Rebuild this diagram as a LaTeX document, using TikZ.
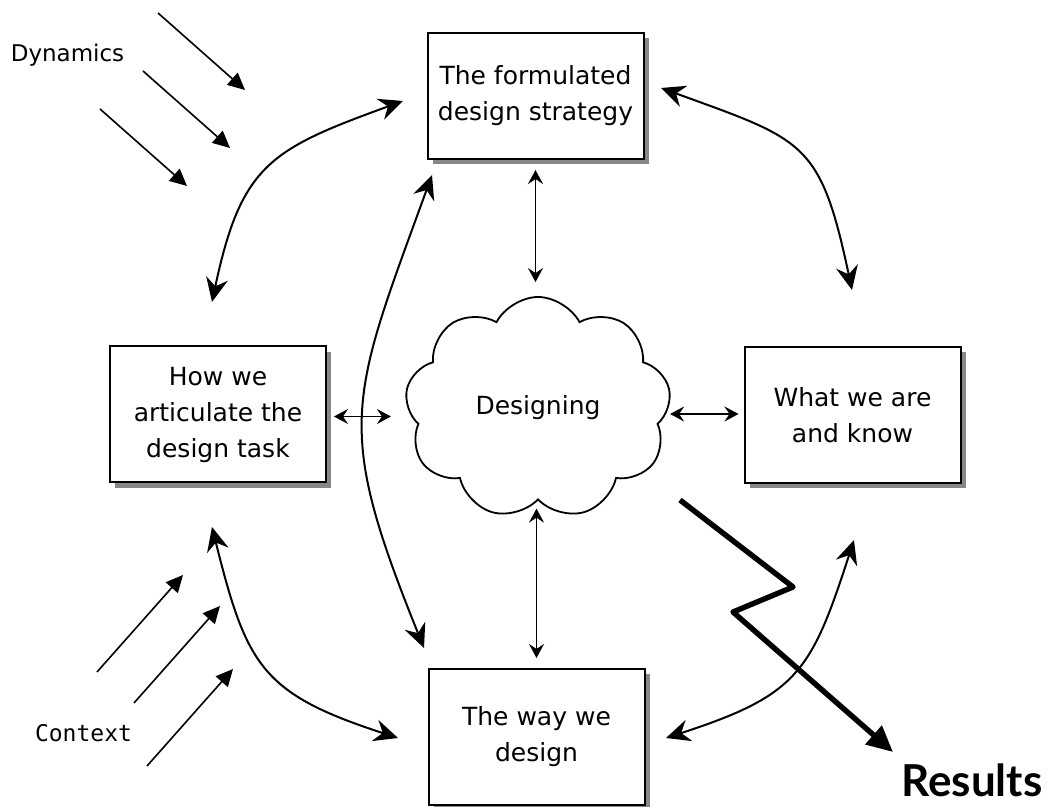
\documentclass[tikz,border=0pt]{standalone}
\usepackage{fontspec}
\setmainfont{DejaVu Sans}
\newfontfamily\ctxfont{DejaVu Sans Mono}
\newfontfamily\resfont{Lato}
\usetikzlibrary{arrows.meta,positioning,shapes.symbols,shadows}

\begin{document}
\begin{tikzpicture}[
  x=0.5pt, y=0.5pt,
  box/.style={
    draw=black,
    line width=1pt,
    fill=white,
    minimum width=108pt,
    minimum height=68pt,
    align=center,
    inner sep=4pt,
    font=\fontsize{12.5}{18}\selectfont,
    drop shadow={shadow xshift=2.6pt, shadow yshift=-2.6pt, fill=black!47, opacity=1},
  },
  puff/.style={
    cloud,
    cloud puffs=9,
    cloud puff arc=125,
    aspect=1.2,
    draw=black,
    line width=0.9pt,
    fill=white,
    minimum width=133pt,
    minimum height=111pt,
    font=\fontsize{12.5}{18}\selectfont,
  },
  loop arr/.style={
    {Stealth[length=12pt,width=11pt,inset=4pt]}-{Stealth[length=12pt,width=11pt,inset=4pt]},
    line width=1pt,
  },
  dbl arr/.style={
    {Stealth[length=7pt,width=7.5pt,inset=2.5pt]}-{Stealth[length=7pt,width=7.5pt,inset=2.5pt]},
    line width=0.75pt,
  },
  push arr/.style={
    -{Triangle[length=8.5pt,width=8pt]},
    line width=0.8pt,
  },
  result arr/.style={
    -{Triangle[length=13pt,width=12pt]},
    line width=2.7pt,
    line join=round,
  },
  note/.style={
    font=\fontsize{11.5}{14}\selectfont,
    anchor=base,
  },
]
\useasboundingbox (0,0) rectangle (1048,807);

% Nodes
\node[box, minimum height=63pt] (strategy) at (535.5,711) {The formulated\\design strategy};

\node[box] (articulate) at (218,392.5) {How we\\articulate the\\design task};

\node[box] (know) at (852.5,392) {What we are\\and know};

\node[box] (way) at (536.5,70) {The way we\\design};

\node[puff] (designing) at (538,399) {\raisebox{-5pt}{Designing}};

\node[note] (dynamics) at (67.5,745) {Dynamics};

\node[note, font=\ctxfont\fontsize{11.5}{14}\selectfont] (context) at (83.5,65) {Context};

\node[anchor=base, font=\resfont\bfseries\fontsize{22}{26}\selectfont] (results) at (972,10) {Results};

% Free ends of the curved arrows
\coordinate (tl a) at (212,505);
\coordinate (tl b) at (403,706);
\coordinate (tr a) at (661,719);
\coordinate (tr b) at (852,517);
\coordinate (bl a) at (212,280);
\coordinate (bl b) at (398,69);
\coordinate (br a) at (854,267);
\coordinate (br b) at (666,69);
\coordinate (long a) at (432,632);
\coordinate (long b) at (424,159);

% Curved arrows
\draw[loop arr] (tl a) to[out=78,in=200,looseness=1.3] (tl b);
\draw[loop arr] (tr a) to[out=-20,in=102,looseness=1.4] (tr b);
\draw[loop arr] (bl a) to[out=-76,in=162,looseness=1.3] (bl b);
\draw[loop arr] (br a) to[out=252,in=18,looseness=1.3] (br b);
\draw[loop arr] (long a) to[out=250,in=112,looseness=1.3] (long b);

% Arrows to the cloud
\draw[dbl arr] ([yshift=-5pt]strategy.south) -- ([yshift=7pt]strategy.south |- designing.north);
\draw[dbl arr] ([yshift=5pt]way.north) -- ([yshift=-4pt]way.north |- designing.south);
\draw[dbl arr] ([xshift=3.5pt,yshift=-1pt]articulate.east) -- ([xshift=-8pt,yshift=-1pt]articulate.east -| designing.west);
\draw[dbl arr] ([xshift=0.5pt,yshift=0.5pt]designing.east |- know.west) -- ([xshift=-2.5pt,yshift=0.5pt]know.west);

% Dynamics and context
\foreach \p in {(158,794),(143,736),(100,698)}
  \draw[push arr] \p -- ++(87,-77);
\foreach \p in {(97,135),(134,104),(147,41)}
  \draw[push arr] \p -- ++(86,97);

% Results
\coordinate (zig a) at (680,307);
\coordinate (zig b) at (793,220);
\coordinate (zig c) at (733,195);
\coordinate (zig d) at (893,55);
\draw[result arr] (zig a) -- (zig b) -- (zig c) -- (zig d);

\end{tikzpicture}
\end{document}
